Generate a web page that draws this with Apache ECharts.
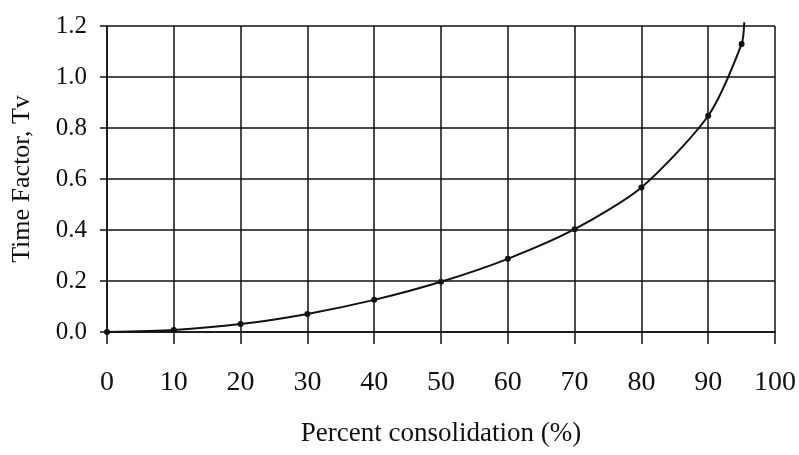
<!DOCTYPE html>
<html>
<head>
<meta charset="utf-8">
<script src="https://cdn.jsdelivr.net/npm/echarts@6/dist/echarts.min.js"></script>
<style>html,body{margin:0;padding:0;background:#fff;}#c{width:799px;height:455px;}</style>
</head>
<body>
<div id="c"></div>
<script>
const percent = [0, 10, 20, 30, 40, 50, 60, 70, 80, 90, 95];
const tv = [0, 0.008, 0.031, 0.071, 0.126, 0.197, 0.287, 0.403, 0.567, 0.848, 1.129];
const tailX = [95.4];
const tailY = [1.215];
const xTitle = 'Percent consolidation (%)';
const yTitle = 'Time Factor, Tv';

const pts = percent.map((p, i) => [p, tv[i]]);
tailX.forEach((x, i) => pts.push({ value: [x, tailY[i]], symbol: 'none' }));

const chart = echarts.init(document.getElementById('c'), null, { renderer: 'canvas' });
const font = '"Liberation Serif", "Times New Roman", serif';
chart.setOption({
  animation: false,
  backgroundColor: '#fff',
  grid: { left: 107, right: 23, top: 26, bottom: 123 },
  xAxis: {
    type: 'value', min: 0, max: 100, interval: 10,
    name: xTitle, nameLocation: 'middle', nameGap: 88,
    nameTextStyle: { fontFamily: font, fontSize: 27, color: '#111' },
    axisLine: { lineStyle: { color: '#111', width: 1.5 } },
    axisTick: { show: true, inside: false, length: 12, lineStyle: { color: '#111', width: 1.5 } },
    axisLabel: { fontFamily: font, fontSize: 28, color: '#111', margin: 37 },
    splitLine: { show: true, lineStyle: { color: '#111', width: 1.5 } }
  },
  yAxis: {
    type: 'value', min: 0, max: 1.2, interval: 0.2,
    name: yTitle, nameLocation: 'middle', nameGap: 72,
    nameTextStyle: { fontFamily: font, fontSize: 26, color: '#111' },
    axisLine: { show: true, lineStyle: { color: '#111', width: 1.5 } },
    axisTick: { show: true, inside: false, length: 7, lineStyle: { color: '#111', width: 1.5 } },
    axisLabel: { fontFamily: font, fontSize: 25, color: '#111', margin: 20,
      formatter: v => v.toFixed(1) },
    splitLine: { show: true, lineStyle: { color: '#111', width: 1.5 } }
  },
  series: [{
    type: 'line',
    data: pts,
    smooth: 0.25,
    clip: false,
    symbol: 'circle',
    symbolSize: 6,
    itemStyle: { color: '#111' },
    lineStyle: { color: '#111', width: 2 }
  }]
});
</script>
</body>
</html>
